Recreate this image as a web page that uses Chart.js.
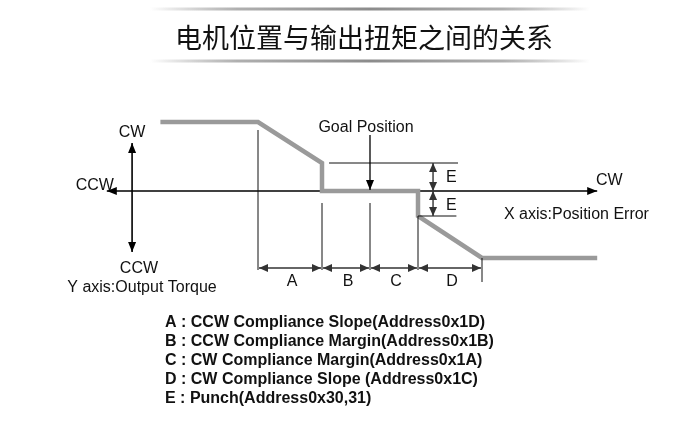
<!DOCTYPE html>
<html><head><meta charset="utf-8">
<script src="https://cdn.jsdelivr.net/npm/chart.js@4"></script>
<style>html,body{margin:0;padding:0;background:#fff}canvas{display:block}</style>
</head><body>
<canvas id="c" width="700" height="424"></canvas>
<script>
// ---- data ----
const title = '电机位置与输出扭矩之间的关系';
const curveX = [-13.1, -7, -3, -3, 3, 3, 7, 14.2];   // position error units
const curveY = [69, 69, 28, 0, 0, -25, -67, -67];    // output torque units
const zoneLabels = ['A', 'B', 'C', 'D'];
const zoneBounds = [-7, -3, 0, 3, 7];
const punch = [28, -25];
const legendLines = [
  'A : CCW Compliance Slope(Address0x1D)',
  'B : CCW Compliance Margin(Address0x1B)',
  'C : CW Compliance Margin(Address0x1A)',
  'D : CW Compliance Slope (Address0x1C)',
  'E : Punch(Address0x30,31)'
];
const xAxisRange = [-16.45, 14.2];
const yAxisX = -14.87;
const yAxisRange = [-61, 48];

const FONT = '"Liberation Sans", Arial, sans-serif';

function arrowHead(ctx, x1, y1, x2, y2, len, half) {
  const a = Math.atan2(y2 - y1, x2 - x1);
  ctx.beginPath();
  ctx.moveTo(x2, y2);
  ctx.lineTo(x2 - len * Math.cos(a) + half * Math.sin(a), y2 - len * Math.sin(a) - half * Math.cos(a));
  ctx.lineTo(x2 - len * Math.cos(a) - half * Math.sin(a), y2 - len * Math.sin(a) + half * Math.cos(a));
  ctx.closePath();
  ctx.fill();
}
function line(ctx, x1, y1, x2, y2) {
  ctx.beginPath(); ctx.moveTo(x1, y1); ctx.lineTo(x2, y2); ctx.stroke();
}

const diagram = {
  id: 'diagram',
  beforeDatasetsDraw(chart) {
    const ctx = chart.ctx, xs = chart.scales.x, ys = chart.scales.y;
    const X = v => xs.getPixelForValue(v), Y = v => ys.getPixelForValue(v);
    ctx.save();
    ctx.strokeStyle = '#000'; ctx.fillStyle = '#000'; ctx.lineWidth = 1.6;
    // X axis
    line(ctx, X(xAxisRange[0]), Y(0), X(xAxisRange[1]), Y(0));
    arrowHead(ctx, X(xAxisRange[1]), Y(0), X(xAxisRange[0]), Y(0), 10, 4);
    arrowHead(ctx, X(xAxisRange[0]), Y(0), X(xAxisRange[1]), Y(0), 10, 4);
    // Y axis
    line(ctx, X(yAxisX), Y(yAxisRange[0]), X(yAxisX), Y(yAxisRange[1]));
    arrowHead(ctx, X(yAxisX), Y(yAxisRange[0]), X(yAxisX), Y(yAxisRange[1]), 10, 4);
    arrowHead(ctx, X(yAxisX), Y(yAxisRange[1]), X(yAxisX), Y(yAxisRange[0]), 10, 4);
    ctx.restore();
  },
  afterDatasetsDraw(chart) {
    const ctx = chart.ctx, xs = chart.scales.x, ys = chart.scales.y;
    const X = v => xs.getPixelForValue(v), Y = v => ys.getPixelForValue(v);
    ctx.save();
    // title decoration lines
    [9, 61].forEach(yy => {
      const g = ctx.createLinearGradient(150, 0, 590, 0);
      g.addColorStop(0, 'rgba(160,160,160,0)');
      g.addColorStop(0.2, 'rgba(175,175,175,1)');
      g.addColorStop(0.5, 'rgba(140,140,140,1)');
      g.addColorStop(0.8, 'rgba(175,175,175,1)');
      g.addColorStop(1, 'rgba(160,160,160,0)');
      ctx.strokeStyle = g; ctx.lineWidth = 3;
      line(ctx, 150, yy, 590, yy);
    });
    ctx.fillStyle = '#111';
    ctx.font = '27px "Noto Sans CJK SC", sans-serif';
    ctx.textAlign = 'center'; ctx.textBaseline = 'middle';
    ctx.fillText(title, 364, 38);

    ctx.strokeStyle = '#111'; ctx.fillStyle = '#111'; ctx.lineWidth = 1;
    // vertical dimension lines
    const zb = zoneBounds;
    const topOf = [61, -12, -12, -25, -67];
    const botOf = [-79, -79, -79, -79, -91];
    zb.forEach((b, i) => line(ctx, X(b), Y(topOf[i]), X(b), Y(botOf[i])));
    // dimension arrows
    ctx.fillStyle = '#333'; ctx.strokeStyle = '#333'; ctx.lineWidth = 1.4;
    const dimY = Y(-77);
    for (let i = 0; i < zoneLabels.length; i++) {
      const a = X(zb[i]) + 1, b = X(zb[i + 1]) - 1;
      line(ctx, a, dimY, b, dimY);
      arrowHead(ctx, b, dimY, a, dimY, 9, 4);
      arrowHead(ctx, a, dimY, b, dimY, 9, 4);
    }
    // punch reference lines
    ctx.strokeStyle = '#111'; ctx.lineWidth = 1;
    line(ctx, X(-2.56), Y(punch[0]), X(5.5), Y(punch[0]));
    line(ctx, X(3), Y(punch[1]), X(5.4), Y(punch[1]));
    // E arrows
    ctx.strokeStyle = '#333'; ctx.fillStyle = '#333'; ctx.lineWidth = 1.4;
    const ex = X(3.94);
    [punch[0], punch[1]].forEach(p => {
      line(ctx, ex, Y(p), ex, Y(0));
      arrowHead(ctx, ex, Y(0), ex, Y(p), 9, 4);
      arrowHead(ctx, ex, Y(p), ex, Y(0), 9, 4);
    });
    // Goal position arrow
    ctx.strokeStyle = '#000'; ctx.fillStyle = '#000'; ctx.lineWidth = 1.3;
    line(ctx, X(0), Y(56), X(0), Y(1));
    arrowHead(ctx, X(0), Y(56), X(0), Y(1), 10, 4);

    // texts
    ctx.fillStyle = '#111';
    ctx.font = '16px ' + FONT;
    ctx.textBaseline = 'middle';
    ctx.textAlign = 'center';
    ctx.fillText('Goal Position', X(-0.25), Y(63));
    ctx.fillText('CW', X(-14.87), Y(58));
    ctx.fillText('CCW', X(-17.2), Y(5));
    ctx.fillText('CCW', X(-14.44), Y(-78));
    ctx.fillText('Y axis:Output Torque', X(-14.25), Y(-97));
    for (let i = 0; i < zoneLabels.length; i++) {
      ctx.fillText(zoneLabels[i], (X(zb[i]) + X(zb[i + 1])) / 2 + 2, Y(-91));
    }
    ctx.textAlign = 'left';
    ctx.fillText('E', X(4.75), Y(13));
    ctx.fillText('E', X(4.75), Y(-15));
    ctx.fillText('CW', X(14.12), Y(10));
    ctx.fillText('X axis:Position Error', X(8.375), Y(-24));
    // legend
    ctx.font = 'bold 16px ' + FONT;
    legendLines.forEach((t, i) => ctx.fillText(t, 165, 323 + i * 18.8));
    ctx.restore();
  }
};

new Chart(document.getElementById('c'), {
  type: 'scatter',
  data: {
    datasets: [{
      data: curveX.map((x, i) => ({ x, y: curveY[i] })),
      showLine: true,
      borderColor: '#9a9a9a',
      borderWidth: 4.5,
      borderJoinStyle: 'miter',
      borderCapStyle: 'butt',
      pointRadius: 0,
      tension: 0
    }]
  },
  options: {
    responsive: false,
    animation: false,
    layout: { padding: 0 },
    plugins: { legend: { display: false }, tooltip: { enabled: false }, title: { display: false } },
    scales: {
      x: { type: 'linear', display: false, min: -23.125, max: 20.625 },
      y: { type: 'linear', display: false, min: -233, max: 191 }
    }
  },
  plugins: [diagram]
});
</script>
</body></html>
